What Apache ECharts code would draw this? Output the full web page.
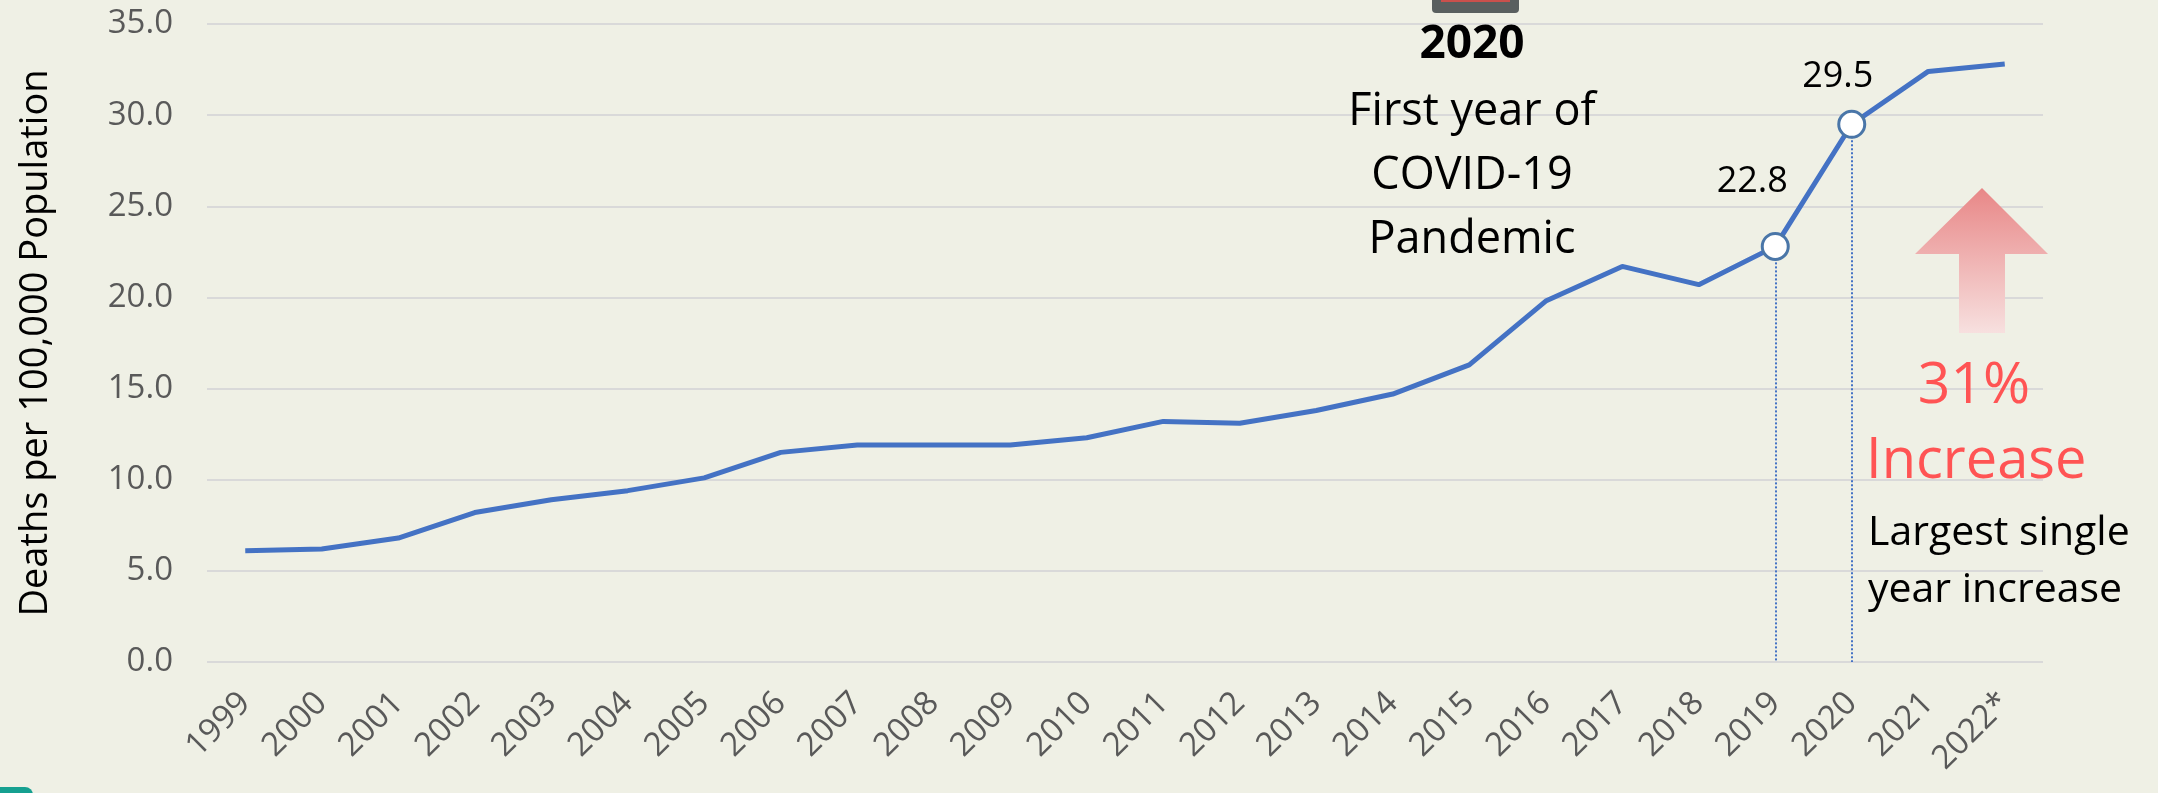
<!DOCTYPE html>
<html>
<head>
<meta charset="utf-8">
<script src="https://cdn.jsdelivr.net/npm/echarts@6/dist/echarts.min.js"></script>
<style>
  html, body { margin: 0; padding: 0; background: #eff0e5; }
  #chart { width: 2158px; height: 793px; }
</style>
</head>
<body>
<div id="chart"></div>
<script>
// Overdose death rate, deaths per 100,000 population, 1999-2022
const years = ['1999','2000','2001','2002','2003','2004','2005','2006','2007','2008','2009','2010',
               '2011','2012','2013','2014','2015','2016','2017','2018','2019','2020','2021','2022*'];
const rates = [6.1, 6.2, 6.8, 8.2, 8.9, 9.4, 10.1, 11.5, 11.9, 11.9, 11.9, 12.3,
               13.2, 13.1, 13.8, 14.7, 16.3, 19.8, 21.7, 20.7, 22.8, 29.5, 32.4, 32.8];
// Years whose points are circled, labelled and dropped to the axis
const highlightYears = ['2019', '2020'];
const yTicks = { min: 0, max: 35, interval: 5 };

const FONT = '"Open Sans", "Noto Sans", sans-serif';
const BLUE = '#4472c4';

const labelOffsets = { '2019': [-23, -32], '2020': [-14, -15] };

const seriesData = rates.map((v, i) => {
  const yr = years[i];
  if (highlightYears.includes(yr)) {
    return {
      value: v,
      symbol: 'circle',
      symbolSize: 26,
      itemStyle: { color: '#ffffff', borderColor: '#4a76a8', borderWidth: 3 },
      label: {
        show: true,
        position: 'top',
        distance: 0,
        offset: labelOffsets[yr],
        formatter: p => p.value.toFixed(1),
        fontFamily: FONT,
        fontSize: 36,
        lineHeight: 37,
        color: '#000000'
      }
    };
  }
  return { value: v, symbol: 'none' };
});

const dropLines = highlightYears.map(yr => {
  const v = rates[years.indexOf(yr)];
  return [{ coord: [yr, v] }, { coord: [yr, 0] }];
});

const chart = echarts.init(document.getElementById('chart'), null, { renderer: 'canvas' });

chart.setOption({
  backgroundColor: '#eff0e5',
  animation: false,
  grid: { left: 207, right: 115, top: 24, bottom: 131 },
  xAxis: {
    type: 'category',
    data: years,
    boundaryGap: true,
    axisLine: { show: false },
    axisTick: { show: false },
    axisLabel: {
      rotate: 45,
      margin: 36,
      padding: [54, 0, 0, 0],
      interval: 0,
      fontFamily: FONT,
      fontSize: 33,
      color: '#595959'
    }
  },
  yAxis: {
    type: 'value',
    min: yTicks.min,
    max: yTicks.max,
    interval: yTicks.interval,
    name: 'Deaths per 100,000 Population',
    nameLocation: 'middle',
    nameRotate: 90,
    nameGap: 152,
    nameTextStyle: { fontFamily: FONT, fontSize: 38, color: '#000000' },
    axisLine: { show: false },
    axisTick: { show: false },
    axisLabel: {
      margin: 34,
      fontFamily: FONT,
      fontSize: 33,
      color: '#595959',
      formatter: v => v.toFixed(1)
    },
    splitLine: { lineStyle: { color: '#d9d9d9', width: 2 } }
  },
  series: [{
    type: 'line',
    data: seriesData,
    showAllSymbol: true,
    lineStyle: { color: BLUE, width: 5 },
    itemStyle: { color: BLUE },
    z: 3,
    markLine: {
      silent: true,
      symbol: 'none',
      label: { show: false },
      lineStyle: { color: BLUE, type: 'dotted', width: 2 },
      data: dropLines,
      z: 1
    }
  }],
  graphic: [
    // calendar icon, cut off at the top edge
    { type: 'rect', shape: { x: 1432, y: -10, width: 87, height: 23, r: 4 }, style: { fill: '#595f5f' }, z: 10 },
    { type: 'rect', shape: { x: 1441, y: -4, width: 69, height: 6 }, style: { fill: '#c9504c' }, z: 11 },
    // 2020 annotation
    { type: 'text', x: 1472, y: 45, style: { text: '2020', font: 'bold 46px ' + FONT, fill: '#000', align: 'center', verticalAlign: 'middle' }, z: 10 },
    { type: 'text', x: 1472, y: 112, style: { text: 'First year of', font: '45px ' + FONT, fill: '#000', align: 'center', verticalAlign: 'middle' }, z: 10 },
    { type: 'text', x: 1472, y: 176, style: { text: 'COVID-19', font: '45px ' + FONT, fill: '#000', align: 'center', verticalAlign: 'middle' }, z: 10 },
    { type: 'text', x: 1472, y: 240, style: { text: 'Pandemic', font: '45px ' + FONT, fill: '#000', align: 'center', verticalAlign: 'middle' }, z: 10 },
    // up arrow
    {
      type: 'polygon',
      shape: { points: [[1982, 188], [2048, 254], [2005, 254], [2005, 333], [1959, 333], [1959, 254], [1915, 254]] },
      style: {
        fill: new echarts.graphic.LinearGradient(0, 0, 0, 1, [
          { offset: 0, color: '#e88787' },
          { offset: 1, color: '#f7e0df' }
        ])
      },
      z: 10
    },
    { type: 'text', x: 1974, y: 387, style: { text: '31%', font: '57px ' + FONT, fill: '#ff5454', align: 'center', verticalAlign: 'middle' }, z: 10 },
    { type: 'text', x: 1866, y: 462, style: { text: 'Increase', font: '56px ' + FONT, fill: '#ff5454', align: 'left', verticalAlign: 'middle' }, z: 10 },
    { type: 'text', x: 1868, y: 533, style: { text: 'Largest single', font: '41px ' + FONT, fill: '#000', align: 'left', verticalAlign: 'middle' }, z: 10 },
    { type: 'text', x: 1868, y: 590, style: { text: 'year increase', font: '41px ' + FONT, fill: '#000', align: 'left', verticalAlign: 'middle' }, z: 10 },
    // corner tab
    { type: 'rect', shape: { x: -10, y: 787, width: 43, height: 20, r: 8 }, style: { fill: '#16a090' }, z: 10 }
  ]
});
</script>
</body>
</html>
